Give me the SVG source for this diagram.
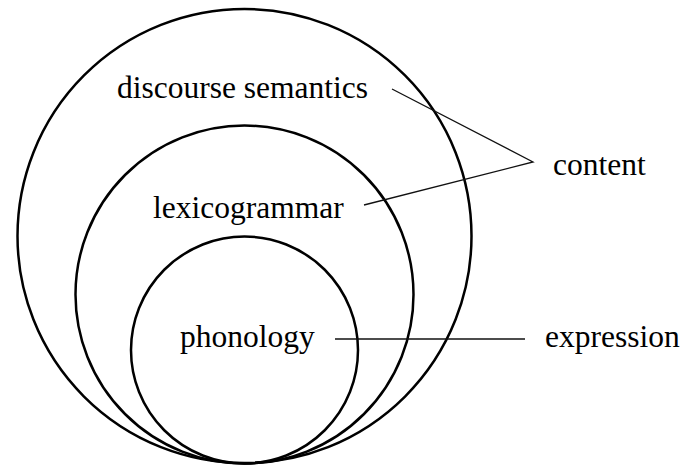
<svg xmlns="http://www.w3.org/2000/svg" width="683" height="466" viewBox="0 0 683 466">
<style>
.ring{fill:none;stroke:#000;stroke-width:2.5}
.conn{fill:none;stroke:#111;stroke-width:1.3}
.lbl{font-family:"Liberation Serif","Times New Roman",serif;font-size:31.5px;fill:#000}
</style>
<rect width="683" height="466" fill="#fff"/>
<g id="discourse-semantics">
<circle class="ring" cx="244.5" cy="236" r="227"/>
<text class="lbl" x="117" y="98">discourse semantics</text>
</g>
<g id="lexicogrammar">
<circle class="ring" cx="244.5" cy="294.5" r="169"/>
<text class="lbl" x="153" y="218">lexicogrammar</text>
</g>
<g id="phonology">
<circle class="ring" cx="244.5" cy="350" r="113.5"/>
<text class="lbl" x="180" y="347">phonology</text>
</g>
<g id="content">
<text class="lbl" x="553" y="175">content</text>
</g>
<g id="expression">
<text class="lbl" x="545" y="347">expression</text>
</g>
<g id="connectors">
<polyline class="conn" points="392,89 533,162 364,205"/>
<line class="conn" x1="335" y1="339" x2="525" y2="339" stroke="#444"/>
</g>
</svg>
